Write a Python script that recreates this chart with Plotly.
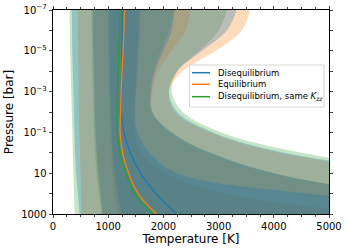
import plotly.graph_objects as go

# Pressure levels [bar]
pressure = [1e-7, 1e-6, 1e-5, 1e-4, 1e-3, 1e-2, 1e-1, 1, 10, 100, 1000]

# Disequilibrium (blue)
diseq_med = [1255, 1250, 1248, 1245, 1242, 1240, 1285, 1400, 1585, 1865, 2240]
diseq_l1 = [1010, 1010, 1020, 1030, 1040, 1050, 1060, 1080, 1120, 1170, 1250]
diseq_r1 = [1570, 1560, 1540, 1520, 1500, 1480, 1530, 1750, 2250, 4600, 9000]
diseq_l2 = [720, 720, 730, 740, 750, 760, 770, 790, 820, 860, 900]
diseq_r2 = [2200, 2150, 2000, 1850, 1780, 1800, 2150, 2850, 4000, 6000, 8000]
diseq_l3 = [340, 345, 350, 360, 370, 380, 390, 400, 420, 450, 480]
diseq_r3 = [3330, 3150, 2700, 2250, 2100, 2250, 2900, 4200, 6500, 8000, 9000]

# Equilibrium (orange)
eq_med = [1295, 1285, 1270, 1250, 1235, 1225, 1215, 1260, 1370, 1540, 1875]
eq_l1 = [1030, 1030, 1035, 1040, 1045, 1050, 1060, 1080, 1110, 1150, 1220]
eq_r1 = [1600, 1590, 1570, 1540, 1510, 1480, 1480, 1600, 2050, 3100, 6000]
eq_l2 = [740, 740, 745, 750, 760, 770, 780, 800, 830, 870, 900]
eq_r2 = [2480, 2400, 2150, 1900, 1800, 1800, 2100, 2800, 3950, 6000, 8000]
eq_l3 = [450, 450, 455, 460, 465, 470, 480, 490, 500, 510, 520]
eq_r3 = [3570, 3420, 2950, 2350, 2100, 2200, 2850, 4100, 6400, 8000, 9000]

# Disequilibrium, same Kzz (green)
kzz_med = [1215, 1205, 1195, 1180, 1170, 1160, 1165, 1220, 1320, 1480, 1800]
kzz_l1 = [990, 990, 995, 1000, 1005, 1010, 1020, 1040, 1070, 1110, 1180]
kzz_r1 = [1560, 1550, 1520, 1500, 1480, 1460, 1470, 1600, 2050, 3100, 6000]
kzz_l2 = [700, 700, 705, 710, 720, 730, 740, 760, 790, 830, 880]
kzz_r2 = [2200, 2100, 1950, 1820, 1760, 1780, 2150, 2850, 4000, 6000, 8000]
kzz_l3 = [300, 305, 310, 320, 330, 340, 350, 360, 370, 380, 390]
kzz_r3 = [3150, 3000, 2650, 2250, 2150, 2350, 3050, 4500, 6800, 8500, 9500]

names = ["Disequilibrium", "Equilibrium", "Disequilibrium, same <i>K</i><sub><i>zz</i></sub>"]
colors = ["#1f77b4", "#ff7f0e", "#2ca02c"]
fills = ["rgba(31,119,180,0.3)", "rgba(255,127,14,0.28)", "rgba(44,160,44,0.27)"]

series = [
    (diseq_med, [(diseq_l3, diseq_r3), (diseq_l2, diseq_r2), (diseq_l1, diseq_r1)]),
    (eq_med, [(eq_l3, eq_r3), (eq_l2, eq_r2), (eq_l1, eq_r1)]),
    (kzz_med, [(kzz_l3, kzz_r3), (kzz_l2, kzz_r2), (kzz_l1, kzz_r1)]),
]

fig = go.Figure()

# bands: green first, then orange, blue on top
for idx in [2, 1, 0]:
    med, bands = series[idx]
    for lo, hi in bands:
        fig.add_trace(go.Scatter(x=lo, y=pressure, mode="lines", line=dict(width=0, shape="spline"),
                                 showlegend=False, hoverinfo="skip"))
        fig.add_trace(go.Scatter(x=hi, y=pressure, mode="lines", line=dict(width=0, shape="spline"),
                                 fill="tonextx", fillcolor=fills[idx], showlegend=False, hoverinfo="skip"))

for idx in [0, 1, 2]:
    med, _ = series[idx]
    fig.add_trace(go.Scatter(x=med, y=pressure, mode="lines", name=names[idx], showlegend=False,
                             line=dict(color=colors[idx], width=1.3, shape="spline")))

# Legend drawn in paper coordinates (matplotlib-like compact legend)
bx0, bx1, by0, by1 = 0.4946, 0.982, 0.5245, 0.7304
fig.add_shape(type="rect", xref="paper", yref="paper", x0=bx0, x1=bx1, y0=by0, y1=by1,
              line=dict(color="#cccccc", width=0.8), fillcolor="rgba(255,255,255,0.8)", layer="above")
row_y = [0.6926, 0.6358, 0.575]
for idx in range(3):
    fig.add_shape(type="line", xref="paper", yref="paper", x0=0.5036, x1=0.5688,
                  y0=row_y[idx], y1=row_y[idx], line=dict(color=colors[idx], width=1.5), layer="above")
    fig.add_annotation(xref="paper", yref="paper", x=0.5888, y=row_y[idx], text=names[idx],
                       showarrow=False, xanchor="left", yanchor="middle",
                       font=dict(size=8.5, color="black"))

dec_vals = [10.0 ** k for k in range(-7, 4)]
dec_text = ["10<sup>−7</sup>", "", "10<sup>−5</sup>", "", "10<sup>−3</sup>", "", "10<sup>−1</sup>", "", "10", "", "1000"]

fig.update_layout(
    width=348, height=251,
    margin=dict(l=53, r=19, t=10, b=37),
    paper_bgcolor="white", plot_bgcolor="white",
    font=dict(family="DejaVu Sans", size=10, color="black"),
    showlegend=False,
)
fig.update_xaxes(range=[0, 5000], tickvals=[0, 1000, 2000, 3000, 4000, 5000], automargin=False,
                 ticks="outside", ticklen=3.5, tickwidth=0.8, mirror="allticks",
                 showline=True, linecolor="black", linewidth=0.8, showgrid=False, zeroline=False,
                 minor=dict(dtick=250, ticks="outside", ticklen=2, tickwidth=0.6, showgrid=False),
                 title=dict(text="Temperature [K]", font=dict(size=12), standoff=1),
                 tickfont=dict(size=10))
fig.update_yaxes(type="log", range=[3, -7], tickvals=dec_vals, ticktext=dec_text, automargin=False,
                 ticks="outside", ticklen=3.5, tickwidth=0.8, mirror="allticks",
                 showline=True, linecolor="black", linewidth=0.8, showgrid=False, zeroline=False,
                 title=dict(text="Pressure [bar]", font=dict(size=12), standoff=4),
                 tickfont=dict(size=10))

fig.write_html("out.html", config={"displayModeBar": False},
               post_script="document.body.style.margin='0';document.body.style.padding='0';")
